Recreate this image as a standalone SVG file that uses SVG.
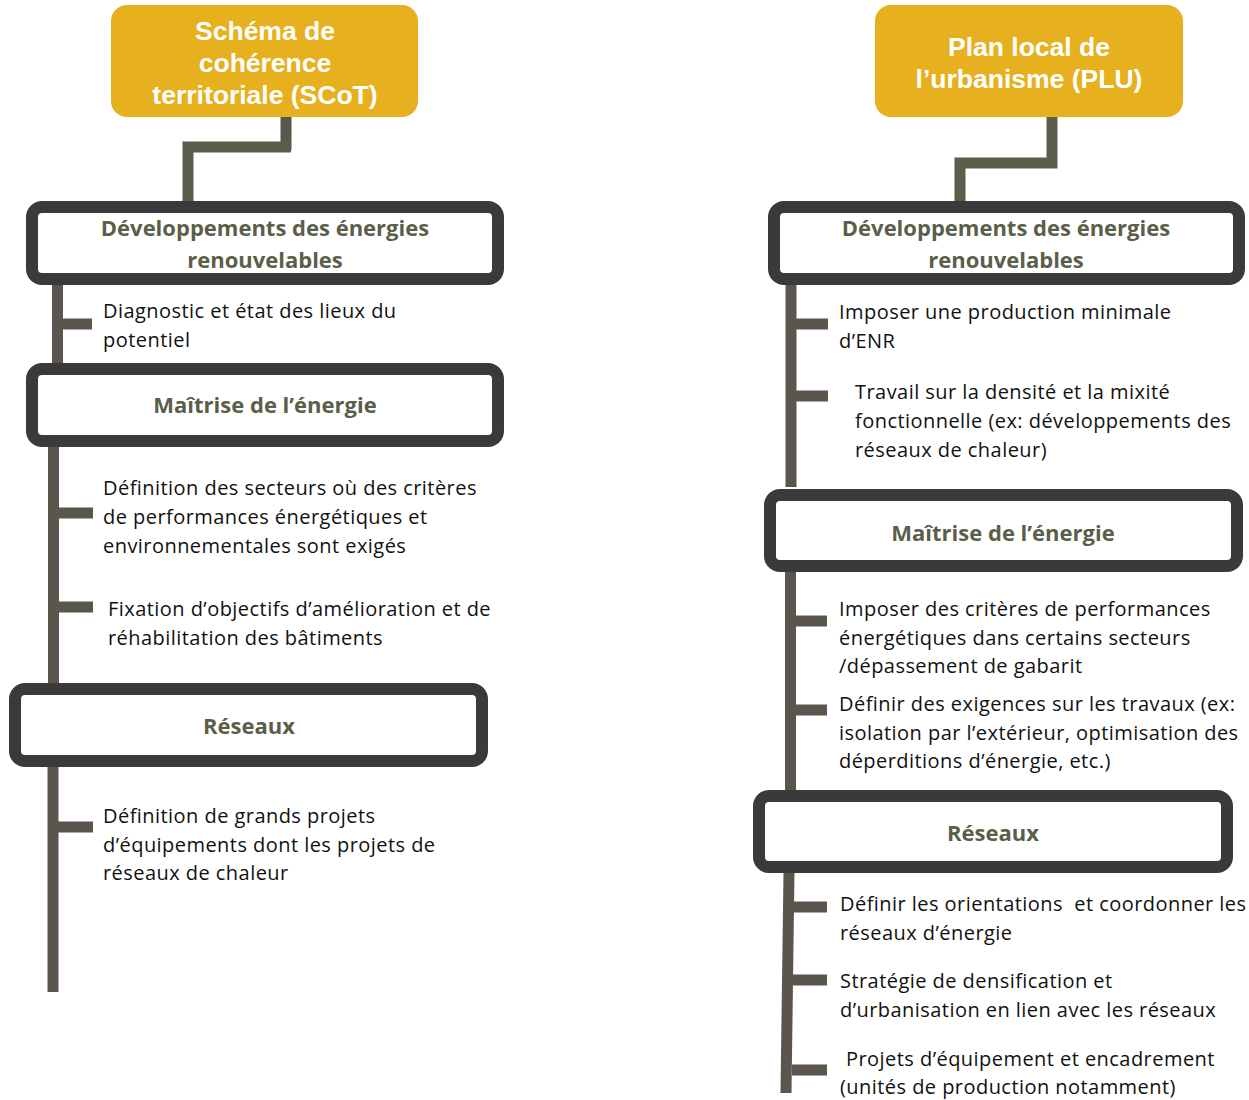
<svg xmlns="http://www.w3.org/2000/svg" width="1249" height="1100" viewBox="0 0 1249 1100">
<style>
.hdr{fill:#E6B01E}
.hdrt{font-family:"Liberation Sans",Arial,sans-serif;font-weight:bold;font-size:26.5px;fill:#FFFFFF;text-anchor:middle}
.box{fill:#FFFFFF;stroke:#3A3A3A;stroke-width:12}
.bt{font-family:"Open Sans","Noto Sans",sans-serif;font-weight:bold;font-size:22px;fill:#5B5F49;text-anchor:middle}
.it{font-family:"Open Sans","Noto Sans",sans-serif;font-size:20px;letter-spacing:0.45px;fill:#111111}
.sp{fill:none;stroke:#5B564D;stroke-width:11}
.cn{fill:none;stroke:#5A5E4A;stroke-width:11}
</style>
<rect width="1249" height="1100" fill="#FFFFFF"/>
<g id="connectors">
  <path class="sp" d="M286 117 V150"/>
  <path class="cn" d="M291 147 H188 V208"/>
  <path class="cn" d="M1052 117 V163 H960 V202"/>
  <path class="sp" d="M57.5 283 V366"/>
  <path class="sp" d="M53.5 445 V686"/>
  <path class="sp" d="M53 765 V992"/>
  <path class="sp" d="M58 324 H92"/>
  <path class="sp" d="M58 513 H93"/>
  <path class="sp" d="M58 607 H93"/>
  <path class="sp" d="M58 827 H93"/>
  <path class="sp" d="M791 283 V487"/>
  <path class="sp" d="M790.5 570 V791"/>
  <path class="sp" d="M789 871 L786 1093"/>
  <path class="sp" d="M796 324 H828"/>
  <path class="sp" d="M796 396 H828"/>
  <path class="sp" d="M795 621 H827"/>
  <path class="sp" d="M795 710 H827"/>
  <path class="sp" d="M794 907 H827"/>
  <path class="sp" d="M793 980 H827"/>
  <path class="sp" d="M792 1070 H827"/>
</g>
<g id="scot">
  <rect class="hdr" x="111" y="5" width="307" height="112" rx="16"/>
  <text class="hdrt" x="265" y="40">Schéma de</text>
  <text class="hdrt" x="265" y="72">cohérence</text>
  <text class="hdrt" x="265" y="104">territoriale (SCoT)</text>
</g>
<g id="plu">
  <rect class="hdr" x="875" y="5" width="308" height="112" rx="16"/>
  <text class="hdrt" x="1029" y="56">Plan local de</text>
  <text class="hdrt" x="1029" y="88">l’urbanisme (PLU)</text>
</g>
<g id="l-enr">
  <rect class="box" x="32" y="207" width="466" height="72" rx="10"/>
  <text class="bt" x="265" y="236">Développements des énergies</text>
  <text class="bt" x="265" y="268">renouvelables</text>
</g>
<g id="l-enr-1">
  <text class="it" x="103" y="318">Diagnostic et état des lieux du</text>
  <text class="it" x="103" y="347">potentiel</text>
</g>
<g id="l-mde">
  <rect class="box" x="32" y="369" width="466" height="72" rx="10"/>
  <text class="bt" x="265" y="413">Maîtrise de l’énergie</text>
</g>
<g id="l-mde-1">
  <text class="it" x="103" y="495">Définition des secteurs où des critères</text>
  <text class="it" x="103" y="524">de performances énergétiques et</text>
  <text class="it" x="103" y="553">environnementales sont exigés</text>
</g>
<g id="l-mde-2">
  <text class="it" x="108" y="616">Fixation d’objectifs d’amélioration et de</text>
  <text class="it" x="108" y="645">réhabilitation des bâtiments</text>
</g>
<g id="l-res">
  <rect class="box" x="15" y="689" width="467" height="72" rx="10"/>
  <text class="bt" x="249" y="734">Réseaux</text>
</g>
<g id="l-res-1">
  <text class="it" x="103" y="823">Définition de grands projets</text>
  <text class="it" x="103" y="852">d’équipements dont les projets de</text>
  <text class="it" x="103" y="880">réseaux de chaleur</text>
</g>
<g id="r-enr">
  <rect class="box" x="774" y="207" width="465" height="72" rx="10"/>
  <text class="bt" x="1006" y="236">Développements des énergies</text>
  <text class="bt" x="1006" y="268">renouvelables</text>
</g>
<g id="r-enr-1">
  <text class="it" x="839" y="319">Imposer une production minimale</text>
  <text class="it" x="839" y="348">d’ENR</text>
</g>
<g id="r-enr-2">
  <text class="it" x="855" y="399">Travail sur la densité et la mixité</text>
  <text class="it" x="855" y="428">fonctionnelle (ex: développements des</text>
  <text class="it" x="855" y="457">réseaux de chaleur)</text>
</g>
<g id="r-mde">
  <rect class="box" x="770" y="495" width="467" height="71" rx="10"/>
  <text class="bt" x="1003" y="541">Maîtrise de l’énergie</text>
</g>
<g id="r-mde-1">
  <text class="it" x="839" y="616">Imposer des critères de performances</text>
  <text class="it" x="839" y="645">énergétiques dans certains secteurs</text>
  <text class="it" x="839" y="673">/dépassement de gabarit</text>
</g>
<g id="r-mde-2">
  <text class="it" x="839" y="711">Définir des exigences sur les travaux (ex:</text>
  <text class="it" x="839" y="740">isolation par l’extérieur, optimisation des</text>
  <text class="it" x="839" y="768">déperditions d’énergie, etc.)</text>
</g>
<g id="r-res">
  <rect class="box" x="759" y="796" width="468" height="71" rx="10"/>
  <text class="bt" x="993" y="841">Réseaux</text>
</g>
<g id="r-res-1">
  <text class="it" x="840" y="911" xml:space="preserve">Définir les orientations  et coordonner les</text>
  <text class="it" x="840" y="940">réseaux d’énergie</text>
</g>
<g id="r-res-2">
  <text class="it" x="840" y="988">Stratégie de densification et</text>
  <text class="it" x="840" y="1017">d’urbanisation en lien avec les réseaux</text>
</g>
<g id="r-res-3">
  <text class="it" x="846" y="1066">Projets d’équipement et encadrement</text>
  <text class="it" x="840" y="1094">(unités de production notamment)</text>
</g>
</svg>
